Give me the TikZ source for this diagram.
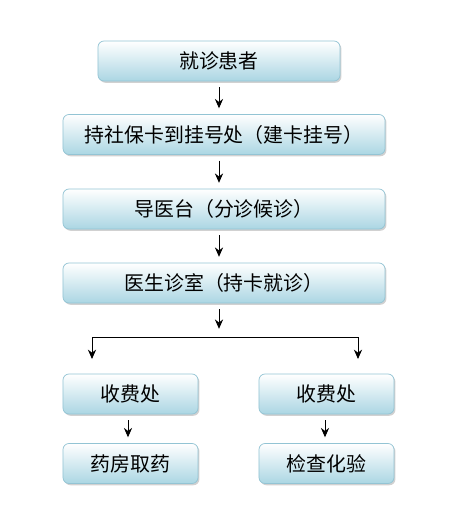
\documentclass[tikz,border=0pt]{standalone}
\usepackage{fontspec}
\newfontfamily\cjk{Noto Sans CJK SC}
\usetikzlibrary{arrows.meta,shadows}

\definecolor{boxtop}{HTML}{FFFFFF}
\definecolor{boxbot}{HTML}{ABD6E3}
\definecolor{boxline}{HTML}{93C4D4}

\begin{document}
\begin{tikzpicture}[x=0.03cm, y=-0.03cm,
  >=Stealth, font=\cjk\fontsize{17}{20}\selectfont,
  box/.style={draw=boxline, line width=0.6pt, top color=boxtop, bottom color=boxbot,
              rounded corners=0.18cm, minimum height=1.2cm, inner sep=2pt,
              drop shadow={shadow xshift=1.2pt, shadow yshift=-1.5pt, fill=black!30, opacity=0.6}},
  arr/.style={-{Stealth[length=8pt,width=7pt]}, line width=0.8pt, draw=black,
              shorten <=5pt, shorten >=5pt},
]
\useasboundingbox (0,0) rectangle (460,520);

% Main column
\node[box, minimum width=7.26cm] (patient) at (219,61) {就诊患者};
\node[box, minimum width=9.66cm] (register) at (224,134.5) {持社保卡到挂号处（建卡挂号）};
\node[box, minimum width=9.66cm] (guide) at (224,209) {导医台（分诊候诊）};
\node[box, minimum width=9.66cm] (doctor) at (224,283) {医生诊室（持卡就诊）};

% Two branches
\node[box, minimum width=4.05cm] (payl) at (130.5,394) {收费处};
\node[box, minimum width=4.05cm] (payr) at (326.5,394) {收费处};
\node[box, minimum width=4.05cm] (pharmacy) at (130.5,463.5) {药房取药};
\node[box, minimum width=4.05cm] (lab) at (326.5,463.5) {检查化验};

% Arrows
\draw[arr] (patient.south) -- (register.north -| patient.south);
\draw[arr] (register.south -| patient.south) -- (guide.north -| patient.south);
\draw[arr] (guide.south -| patient.south) -- (doctor.north -| patient.south);

% Split
\coordinate (split) at (219,337);
\coordinate (left) at (92,337);
\coordinate (right) at (358,337);
\coordinate (leftend) at (92,359);
\coordinate (rightend) at (358,359);
\draw[arr, shorten >=7pt] (doctor.south -| patient.south) -- (split);
\draw[line width=0.8pt] (left) -- (right);
\draw[arr, shorten <=0pt, shorten >=0pt] (left) -- (leftend);
\draw[arr, shorten <=0pt, shorten >=0pt] (right) -- (rightend);

\draw[arr] (payl.south -| 128,0) -- (pharmacy.north -| 128,0);
\draw[arr] (payr.south -| 325,0) -- (lab.north -| 325,0);

\end{tikzpicture}
\end{document}
